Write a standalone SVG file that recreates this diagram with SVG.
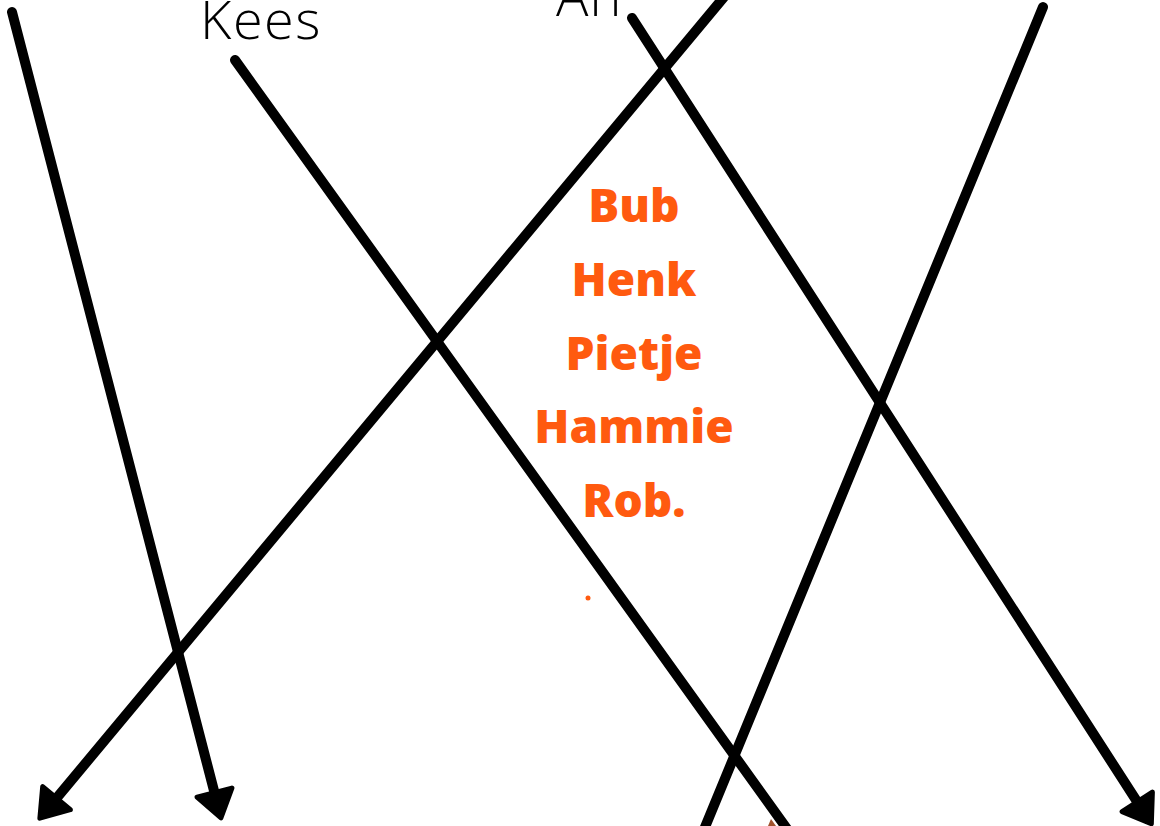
<svg xmlns="http://www.w3.org/2000/svg" width="1160" height="826" viewBox="0 0 1160 826">
<style>
.ln{fill:none;stroke:#000;stroke-width:10;stroke-linecap:round}
.lbl{font-family:"Open Sans","Liberation Sans",sans-serif;font-weight:300;font-size:54px;fill:#000}
.nm{font-family:"Open Sans","Liberation Sans",sans-serif;font-weight:800;font-size:46px;fill:#FF5A0F;text-anchor:middle}
</style>
<defs>
<marker id="ah" markerUnits="userSpaceOnUse" markerWidth="60" markerHeight="60" viewBox="-40 -30 60 60" refX="-8" refY="0" orient="auto">
<path d="M0,0 L-26,-18 L-26,18 Z" fill="#000" stroke="#000" stroke-width="5" stroke-linejoin="round"/>
</marker>
</defs>
<rect width="1160" height="826" fill="#fff"/>
<g id="labels">
<text class="lbl" x="200" y="39" letter-spacing="1.5">Kees</text>
<text class="lbl" x="556" y="16" letter-spacing="1">An</text>
</g>
<g id="names">
<text class="nm" x="634" y="222">Bub</text>
<text class="nm" x="634" y="296">Henk</text>
<text class="nm" x="634" y="370">Pietje</text>
<text class="nm" x="634" y="443">Hammie</text>
<text class="nm" x="634" y="517">Rob.</text>
<circle cx="588" cy="598" r="2.5" fill="#FF5A0F"/>
</g>
<g id="connectors">
<line class="ln" x1="12" y1="12" x2="219" y2="810" marker-end="url(#ah)"/>
<line class="ln" x1="235" y1="60" x2="790" y2="833"/>
<line class="ln" x1="724" y1="-3" x2="45" y2="812" marker-end="url(#ah)"/>
<line class="ln" x1="632" y1="18" x2="1147" y2="817" marker-end="url(#ah)"/>
<line class="ln" x1="1043" y1="7" x2="703" y2="832"/>
<path d="M768,826 L771,819 L776,826 Z" fill="#A0522D"/>
</g>
</svg>
